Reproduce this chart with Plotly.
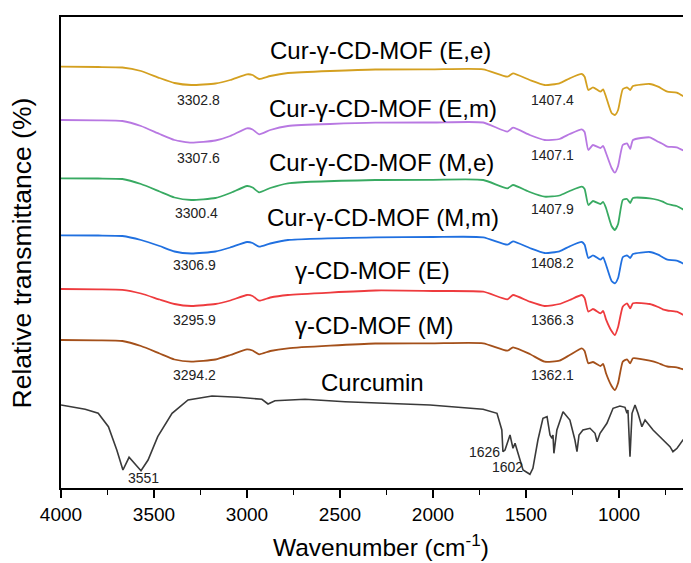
import plotly.graph_objects as go

# ---------------- data ----------------
# wavenumbers (cm-1) sampled for the MOF spectra
wn_mof = [4000, 3800, 3670, 3570, 3470, 3390, 3300, 3170, 3090, 3000,
          2970, 2935, 2875, 2780, 2310, 2000, 1730, 1600, 1570, 1480,
          1400, 1320, 1265, 1200, 1185, 1165, 1140, 1100, 1085, 1070,
          1040, 1022, 1005, 980, 957, 940, 925, 835, 790, 765,
          740, 690, 620]

cur_ee = [421.3, 421, 420.5, 417, 410, 405, 403, 404.5, 408, 413.7,
          413, 409, 412, 415, 418.5, 418.7, 418.7, 411.3, 414.7, 408,
          403, 404.7, 409.7, 414, 411.3, 398, 400.7, 396.3, 398.7, 391.3,
          375, 373, 378, 398.7, 400.7, 398, 402, 404, 401.3, 398.7,
          396.3, 395.3, 388]

cur_em = [368, 367.7, 367, 362, 354, 348, 345.3, 347.5, 352, 359.7,
          358.5, 353.7, 358, 362, 365.3, 365.5, 365.5, 356.3, 360.3, 353,
          348, 349, 354, 358.7, 356, 338, 343, 340, 342, 335,
          320, 315.3, 322, 343, 344.7, 339, 348, 350.7, 346.3, 344,
          341.3, 340.7, 334]

cur_me = [309.7, 309.5, 309, 304, 296.5, 290.5, 288, 290, 295, 302,
          300.5, 295.7, 300, 304.7, 308, 308.2, 308, 299.7, 303, 296,
          291.3, 292.5, 297, 301.3, 299, 283, 287, 284, 286, 280,
          262, 258, 264, 288, 289, 285, 290, 289.7, 288, 286.3,
          284, 282, 274.7]

cur_mm = [252.7, 252.5, 252, 248, 242, 236.5, 234.5, 236.5, 240.5, 246,
          245, 241.3, 244.5, 248, 250.7, 251, 250.7, 243.3, 246.7, 240,
          235, 236.7, 241.7, 246, 243.3, 230, 232.7, 228.3, 230.7, 223.3,
          207, 204.7, 210, 230.7, 232.7, 230, 234, 236, 233.3, 230.7,
          228.3, 227.3, 221.3]

cd_e = [199, 198.7, 198.2, 194.5, 188.5, 184, 182, 184, 187.5, 193,
        192, 187.3, 190.5, 193, 197.5, 197, 196.3, 188.7, 193, 186.3,
        182, 184, 188, 193, 190, 176.3, 179, 174.7, 177, 168.7,
        157, 153, 161, 181.3, 184.7, 179.7, 184.7, 184, 181, 178.7,
        177.5, 176.3, 169.7]

cd_m = [148, 147.7, 147, 142, 134.5, 128.5, 126.3, 128.5, 133, 138.7,
        137.5, 133.7, 137, 139.7, 144.5, 144.7, 144.7, 137.3, 140.7, 134,
        126.3, 127.3, 133, 139.7, 137, 124.7, 126, 122, 124, 114.7,
        102, 98, 105, 126.3, 128.7, 124.7, 129.7, 127.3, 125, 123,
        121.5, 120.7, 116.3]

wn_cur = [4000, 3870, 3800, 3745, 3700, 3667, 3634, 3570, 3532, 3480,
          3403, 3317, 3188, 3048, 2920, 2887, 2850, 2688, 2473, 2194,
          2016, 1731, 1656, 1630, 1624, 1613, 1586, 1570, 1559, 1543,
          1516, 1479, 1463, 1436, 1409, 1387, 1371, 1360, 1355, 1350,
          1334, 1301, 1264, 1237, 1226, 1215, 1194, 1156, 1129, 1118,
          1102, 1065, 1032, 995, 968, 957, 952, 941, 930, 914,
          898, 877, 860, 817, 764, 742, 726, 710, 688, 656,
          629, 618]

curcumin = [83, 78.7, 74.7, 61.3, 38, 18, 30.7, 17.3, 28, 51.3,
            74.7, 88, 92, 90.7, 88.7, 84, 87.3, 88.7, 86.3, 84.7,
            83, 78.7, 74.7, 58, 36.3, 38, 53, 39.7, 44.7, 34.7,
            18, 13.7, 19.7, 48, 69.7, 71.3, 53, 49.7, 53, 34.7,
            58, 76.3, 68, 48, 36.3, 53, 58, 59.7, 54.7, 46.3,
            54.7, 64.7, 79.7, 82, 80.7, 74.7, 78, 31.3, 74.7, 83,
            74.7, 61.3, 68, 58, 48, 44.7, 41.3, 36.3, 39.7, 48,
            54.7, 59.7]

series_names = ["Cur-γ-CD-MOF (E,e)", "Cur-γ-CD-MOF (E,m)", "Cur-γ-CD-MOF (M,e)",
                "Cur-γ-CD-MOF (M,m)", "γ-CD-MOF (E)", "γ-CD-MOF (M)", "Curcumin"]

x_ticks = [4000, 3500, 3000, 2500, 2000, 1500, 1000]

# ---------------- styling ----------------
FONT = "Arial, 'Liberation Sans', sans-serif"
colors = ["#D4A020", "#B878E2", "#38AA62", "#2070E0", "#EE3B3E", "#A4501A", "#3A3A3A"]

fig = go.Figure()
mof_series = [cur_ee, cur_em, cur_me, cur_mm, cd_e, cd_m]
for name, ys, col in zip(series_names[:6], mof_series, colors[:6]):
    fig.add_trace(go.Scatter(x=wn_mof, y=ys, mode="lines", name=name,
                             line=dict(color=col, width=1.8, shape="spline", smoothing=0.5)))
fig.add_trace(go.Scatter(x=wn_cur, y=curcumin, mode="lines", name=series_names[6],
                         line=dict(color=colors[6], width=1.6)))

annotations = []
# series labels (wavenumber, level)
label_pos = [(2285, 438), (2269, 380), (2275, 326), (2269, 271), (2328, 218), (2317, 163), (2323, 106)]
for name, (lx, ly) in zip(series_names, label_pos):
    annotations.append(dict(x=lx, y=ly, xref="x", yref="y", text=name, showarrow=False,
                            xanchor="center", yanchor="middle",
                            font=dict(family=FONT, size=24, color="black")))

# peak annotations
peak_text = ["3302.8", "3307.6", "3300.4", "3306.9", "3295.9", "3294.2", "3551",
             "1407.4", "1407.1", "1407.9", "1408.2", "1366.3", "1362.1", "1626", "1602"]
peak_pos = [(3263, 388), (3263, 330), (3269, 275), (3280, 223), (3280, 168), (3280, 113), (3559, 10),
            (1360, 388), (1360, 333), (1360, 279), (1360, 225), (1360, 168), (1360, 113), (1721, 36), (1602, 21)]
for t, (px, py) in zip(peak_text, peak_pos):
    annotations.append(dict(x=px, y=py, xref="x", yref="y", text=t, showarrow=False,
                            xanchor="center", yanchor="middle",
                            font=dict(family=FONT, size=14, color="#222")))

# axis titles as annotations
annotations.append(dict(x=0.508, y=-0.123, xref="paper", yref="paper",
                        xanchor="center", yanchor="middle",
                        text="Wavenumber (cm<sup>-1</sup>)", showarrow=False,
                        font=dict(family=FONT, size=24.5, color="black")))
annotations.append(dict(x=-0.062, y=0.5, xref="paper", yref="paper", textangle=-90,
                        xanchor="center", yanchor="middle",
                        text="Relative transmittance (%)", showarrow=False,
                        font=dict(family=FONT, size=26.5, color="black")))

# the page body has an 8px margin, so the figure is sized/offset to compensate
fig.update_layout(
    width=683, height=555,
    margin=dict(l=53, r=0, t=9, b=75),
    paper_bgcolor="white", plot_bgcolor="white",
    showlegend=False,
    annotations=annotations,
    font=dict(family=FONT, color="black"),
)
fig.update_xaxes(range=[4000, 613], tickvals=x_ticks, ticktext=[str(v) for v in x_ticks],
                 ticks="outside", ticklen=8, tickwidth=1.5, tickcolor="black",
                 showline=True, linecolor="black", linewidth=1.5, mirror=True,
                 showgrid=False, zeroline=False,
                 tickfont=dict(family=FONT, size=19, color="black"),
                 minor=dict(ticks="outside", ticklen=5, tickwidth=1.2, tickcolor="black",
                            dtick=250, tick0=0, showgrid=False))
fig.update_yaxes(range=[0, 471], showticklabels=False, ticks="",
                 showline=True, linecolor="black", linewidth=1.5, mirror=False,
                 showgrid=False, zeroline=False)

fig.write_html("out.html")
